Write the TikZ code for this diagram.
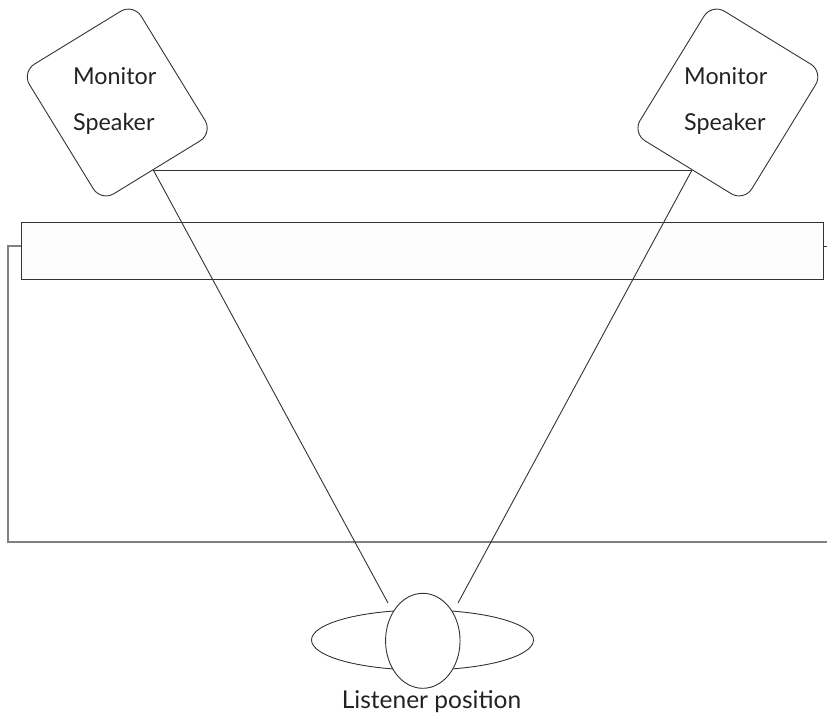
\documentclass[tikz,border=0pt]{standalone}
\usepackage{fontspec}
\setmainfont{Lato}
\usetikzlibrary{shapes.geometric}
\definecolor{ink}{HTML}{333333}
\definecolor{txt}{HTML}{222222}
\definecolor{frame}{HTML}{808080}
\definecolor{deskfill}{HTML}{FDFDFD}
\begin{document}
\begin{tikzpicture}[x=1pt,y=-1pt,
  line/.style={draw=ink,line width=0.9pt},
  spkbox/.style={line,rectangle,rounded corners=15pt,minimum width=131pt,minimum height=152pt,inner sep=0pt},
  lbl/.style={text=txt,inner sep=0pt,font=\fontsize{23.3}{28}\selectfont},
  roomline/.style={draw=frame,line width=1.2pt}]
\useasboundingbox (0,0) rectangle (827,715);
% room frame
\coordinate (fa) at (21,246);
\coordinate (fb) at (8,246);
\coordinate (fc) at (8,542);
\coordinate (fd) at (827,542);
\coordinate (fe) at (823,246);
\coordinate (ff) at (827,246);
\draw[roomline] (fa) -- (fb) -- (fc) -- (fd);
\draw[line] (fe) -- (ff);
% desk
\node[line,fill=deskfill,rectangle,inner sep=0pt,minimum width=802pt,minimum height=57pt] (desk) at (422,250.5) {};
% speakers
\node[spkbox,rotate=31.5] (spkL) at (117.25,102.5) {};
\node[spkbox,rotate=-31.5] (spkR) at (727.9,102.5) {};
\node[lbl,anchor=base west] (spkLa) at (73,84) {Monitor};
\node[lbl,anchor=base west] (spkLb) at (73,130.7) {Speaker};
\node[lbl,anchor=base west] (spkRa) at (684,84) {Monitor};
\node[lbl,anchor=base west] (spkRb) at (684,130.7) {Speaker};
% listener
\node[line,ellipse,fill=white,minimum width=222pt,minimum height=60pt,inner sep=0pt] (shoulders) at (422.5,640) {};
\node[line,ellipse,fill=white,minimum width=74.5pt,minimum height=95pt,inner sep=0pt] (head) at (422.8,640.8) {};
\node[lbl,anchor=base,font=\fontsize{24.5}{28}\selectfont] (listener) at (431.5,708) {Listener position};
% sight lines
\coordinate (pL) at (153.3,170);
\coordinate (pR) at (692,170);
\coordinate (eL) at (388,603);
\coordinate (eR) at (458,603);
\draw[line] (pL) -- (pR);
\draw[line] (pL) -- (eL);
\draw[line] (pR) -- (eR);
\end{tikzpicture}
\end{document}
